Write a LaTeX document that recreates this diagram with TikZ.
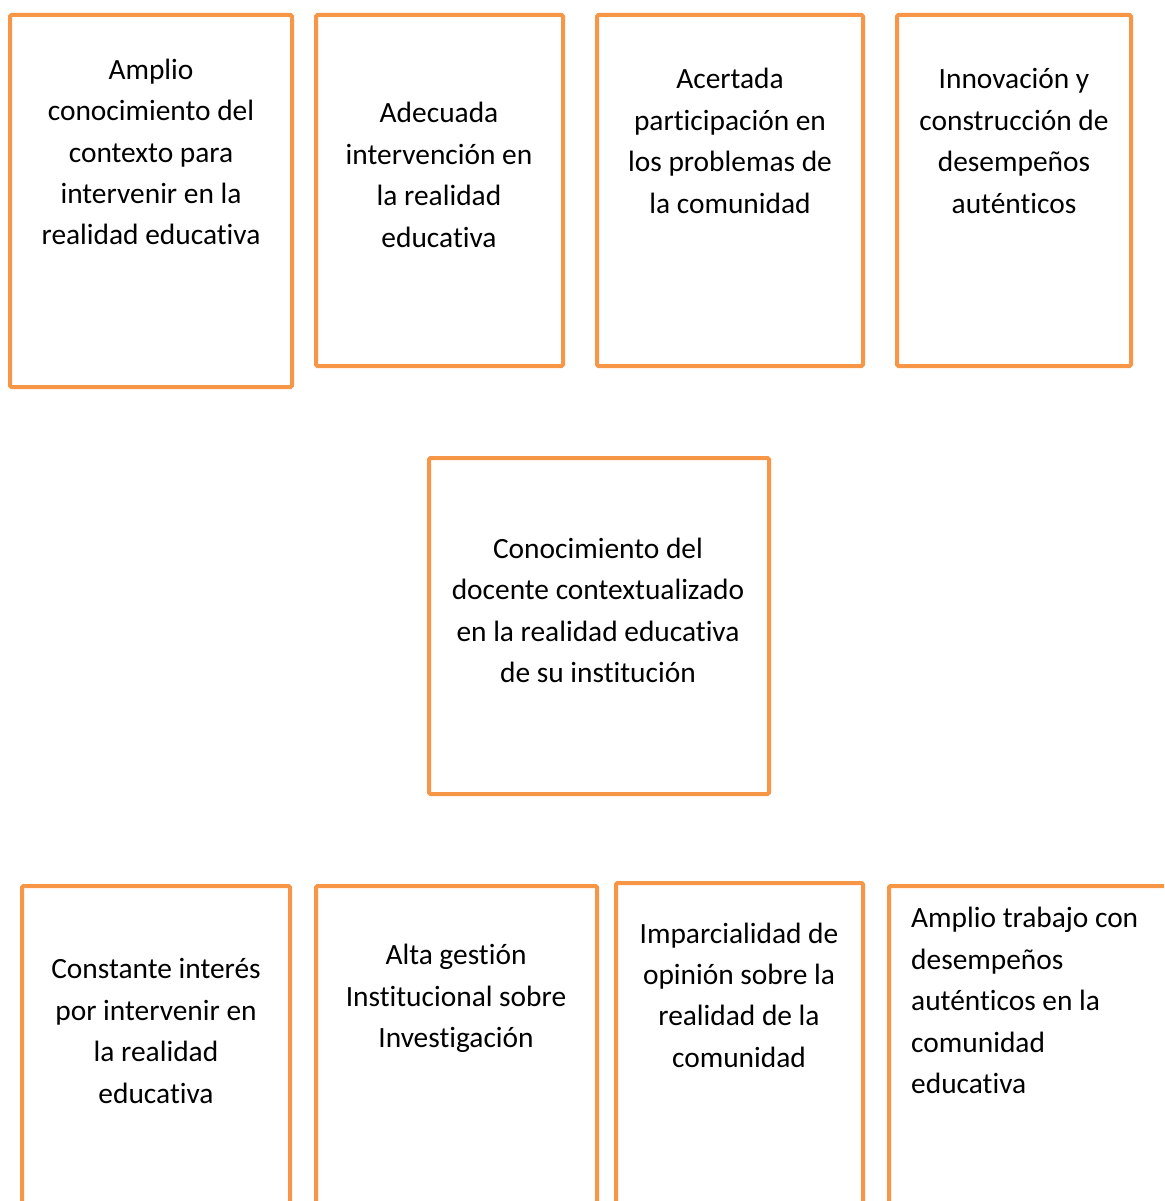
\documentclass[tikz,border=0pt]{standalone}
\usepackage{fontspec}
\setmainfont{Carlito}[Ligatures={NoCommon}]
\definecolor{boxorange}{HTML}{F79646}
\begin{document}
\begin{tikzpicture}[x=1pt,y=-1pt,
  box/.style={draw=boxorange, line width=4pt, rounded corners=1.5pt, inner sep=0pt, minimum width=#1},
  txt/.style={align=center, inner sep=0pt, font=\fontsize{29.4}{41.4}\selectfont},
  txtl/.style={align=left, inner sep=0pt, font=\fontsize{29.4}{41.4}\selectfont}]
\useasboundingbox (0,0) rectangle (1164,1201);
\clip (0,0) rectangle (1164,1201);
% top row
\node[box=282pt, minimum height=372pt] (b1) at (151,201) {};
\node[box=247pt, minimum height=351pt] (b2) at (439.5,190.5) {};
\node[box=266pt, minimum height=351pt] (b3) at (730,190.5) {};
\node[box=234pt, minimum height=351pt] (b4) at (1014,190.5) {};
% centre
\node[box=340pt, minimum height=336pt] (c) at (599,626) {};
% bottom row (cut off by the page edge)
\node[box=268pt, minimum height=360pt] (d1) at (156,1066) {};
\node[box=281pt, minimum height=360pt] (d2) at (456.5,1066) {};
\node[box=247pt, minimum height=360pt] (d3) at (739.5,1063) {};
\node[box=301pt, minimum height=360pt] (d4) at (1039.5,1066) {};
% texts
\node[txt] (t1) at (151,152) {Amplio\\conocimiento del\\contexto para\\intervenir en la\\realidad educativa};
\node[txt] (t2) at (439,175) {Adecuada\\intervención en\\la realidad\\educativa};
\node[txt] (t3) at (730,141) {Acertada\\participación en\\los problemas de\\la comunidad};
\node[txt] (t4) at (1014,141) {Innovación y\\construcción de\\desempeños\\auténticos};
\node[txt] (tc) at (598,610.5) {Conocimiento del\\docente contextualizado\\en la realidad educativa\\de su institución};
\node[txt] (u1) at (156,1031) {Constante interés\\por intervenir en\\la realidad\\educativa};
\node[txt] (u2) at (456,998.5) {Alta gestión\\Institucional sobre\\Investigación};
\node[txt] (u3) at (739,995) {Imparcialidad de\\opinión sobre la\\realidad de la\\comunidad};
\node[txtl, anchor=west] (u4) at (911,1000.5) {Amplio trabajo con\\desempeños\\auténticos en la\\comunidad\\educativa};
\end{tikzpicture}
\end{document}
